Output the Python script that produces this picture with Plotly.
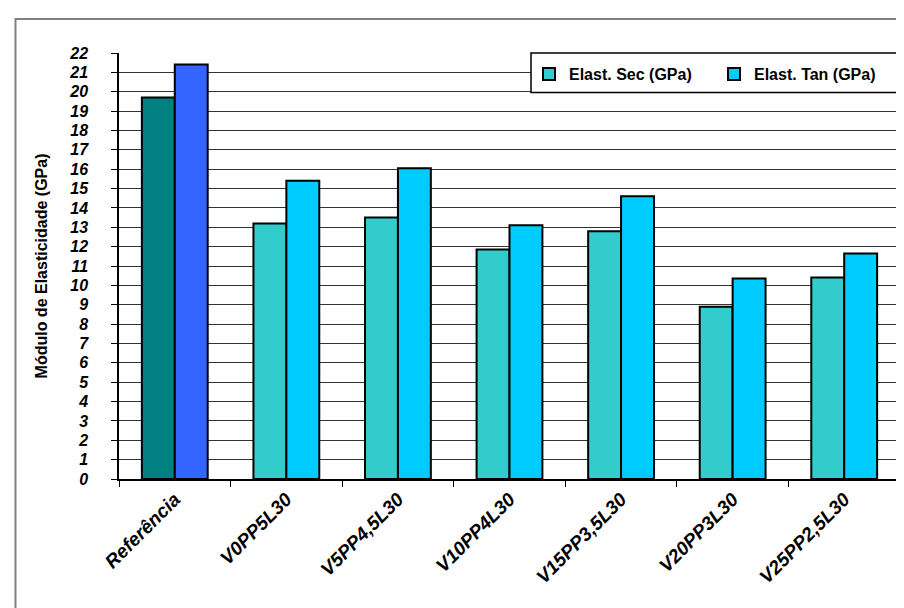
import plotly.graph_objects as go

categories = ["Referência", "V0PP5L30", "V5PP4,5L30", "V10PP4L30",
              "V15PP3,5L30", "V20PP3L30", "V25PP2,5L30"]
elast_sec = [19.7, 13.2, 13.5, 11.85, 12.8, 8.9, 10.4]
elast_tan = [21.4, 15.4, 16.05, 13.1, 14.6, 10.35, 11.65]
series_names = ["Elast. Sec (GPa)", "Elast. Tan (GPa)"]
y_ticks = list(range(0, 23))

sec_colors = ["#008080"] + ["#33CCCC"] * (len(categories) - 1)
tan_colors = ["#3366FF"] + ["#00CCFF"] * (len(categories) - 1)
legend_colors = ["#33CCCC", "#00CCFF"]

FONT = "Liberation Sans, Arial, sans-serif"

fig = go.Figure()
fig.add_trace(go.Bar(
    x=categories, y=elast_sec, name=series_names[0], offsetgroup="sec",
    marker=dict(color=sec_colors, line=dict(color="black", width=2)),
    showlegend=False,
))
fig.add_trace(go.Bar(
    x=categories, y=elast_tan, name=series_names[1], offsetgroup="tan",
    marker=dict(color=tan_colors, line=dict(color="black", width=2)),
    showlegend=False,
))
# legend entries with the series' representative colours
for name, col, grp in zip(series_names, legend_colors, ["sec", "tan"]):
    fig.add_trace(go.Bar(
        x=[categories[0]], y=[None], name=name, offsetgroup=grp,
        marker=dict(color=col, line=dict(color="black", width=2)),
        showlegend=True, hoverinfo="skip",
    ))

# legend box
lx0 = (523 - 111) / 781
ly0 = (471 - 84.5) / 426
fig.add_shape(type="rect", xref="paper", yref="paper",
              x0=lx0, x1=1.0, y0=ly0, y1=1.0,
              line=dict(color="black", width=1.5), fillcolor="white", layer="above")
# plot right border
fig.add_shape(type="line", xref="paper", yref="paper",
              x0=1.0, x1=1.0, y0=0, y1=1,
              line=dict(color="#808080", width=1.5))
# outer chart border
fig.add_shape(type="rect", xref="paper", yref="paper",
              x0=(7.5 - 111) / 781, x1=1.1, y0=-0.6, y1=(471 - 11) / 426,
              line=dict(color="#808080", width=2), fillcolor="rgba(0,0,0,0)")

fig.update_layout(
    width=904, height=608,
    margin=dict(l=111, r=12, t=45, b=137),
    paper_bgcolor="white", plot_bgcolor="white",
    barmode="group", bargap=0.41, bargroupgap=0,
    font=dict(family=FONT, color="black"),
    legend=dict(
        orientation="h", x=(521 - 111) / 781, xanchor="left",
        y=(471 - 66) / 426, yanchor="middle",
        bgcolor="rgba(0,0,0,0)", borderwidth=0,
        font=dict(family=FONT, size=16, weight="bold"),
        entrywidth=140, entrywidthmode="pixels",
        itemclick=False, itemdoubleclick=False,
    ),
    showlegend=True,
)
fig.update_xaxes(
    type="category", tickangle=-45,
    tickfont=dict(family=FONT, size=19, weight="bold", style="italic"),
    showline=True, linecolor="black", linewidth=1.5,
    ticks="outside", ticklen=6, tickcolor="black", tickson="boundaries",
    showgrid=False, zeroline=False,
)
fig.update_yaxes(
    range=[0, 22], tickvals=y_ticks, ticktext=[str(v) for v in y_ticks],
    tickfont=dict(family=FONT, size=16, weight="bold", style="italic"),
    showline=True, linecolor="black", linewidth=1.5,
    ticks="outside", ticklen=6, tickcolor="black",
    ticklabelstandoff=20,
    showgrid=True, gridcolor="#333333", gridwidth=1,
    zeroline=False,
    title=dict(text="Módulo de Elasticidade (GPa)", standoff=18,
               font=dict(family=FONT, size=16, weight="bold")),
)

fig.write_html("out.html")
